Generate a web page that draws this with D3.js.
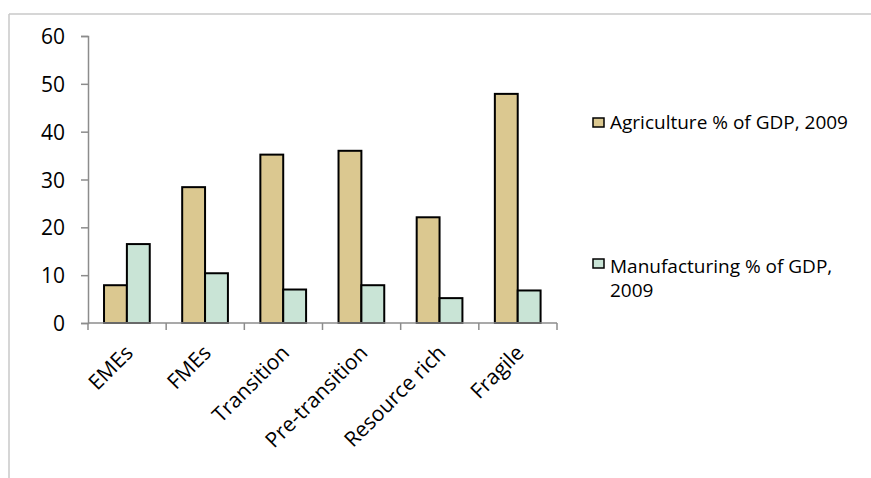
<html>
<script src="https://d3js.org/d3.v7.min.js"></script>
<style>
body {margin: 0; background: white;}
text {font-family: "Open Sans", "Liberation Sans", sans-serif; fill: #000;}
</style>
<div id="chart"></div>
<script>
var categories = ["EMEs", "FMEs", "Transition", "Pre-transition", "Resource rich", "Fragile"];
var agriculture = [7.9, 28.4, 35.2, 36.0, 22.1, 47.9];
var manufacturing = [16.5, 10.4, 7.0, 7.9, 5.2, 6.8];
var seriesNames = ["Agriculture % of GDP, 2009", "Manufacturing % of GDP, 2009"];
var yTicks = [0, 10, 20, 30, 40, 50, 60];

var colors = ["#dbc890", "#c9e4d6"];

var W = 871, H = 478;
var svg = d3.select("#chart").append("svg")
  .attr("width", W)
  .attr("height", H);

// outer frame (top + left only visible)
svg.append("line").attr("x1", 9).attr("x2", W).attr("y1", 14).attr("y2", 14)
  .style("stroke", "#c8c8c8").style("stroke-width", 1.5);
svg.append("line").attr("x1", 9).attr("x2", 9).attr("y1", 14).attr("y2", H)
  .style("stroke", "#c8c8c8").style("stroke-width", 1.5);

var pLeft = 88, pRight = 557, pTop = 36, pBottom = 323;

var x0 = d3.scaleBand().domain(categories).range([pLeft, pRight]).padding(0);
var bw = x0.bandwidth();
var x1 = d3.scaleBand().domain([0, 1]).range([bw * 0.205, bw * 0.79]);
var y = d3.scaleLinear().domain([0, 60]).range([pBottom, pTop]);

// y axis
var yAxis = svg.append("g")
  .attr("transform", "translate(" + pLeft + ",0)")
  .call(d3.axisLeft(y).tickValues(yTicks).tickSize(7).tickPadding(16));
yAxis.select(".domain").style("stroke", "#8c8c8c").style("stroke-width", 1.5);
yAxis.selectAll(".tick line").style("stroke", "#8c8c8c").style("stroke-width", 1.5);
yAxis.selectAll(".tick text").style("font-size", "21px").attr("dy", "0.36em")
  .style("font-family", "'Open Sans', sans-serif");

var data = [agriculture, manufacturing];

var groups = svg.append("g").selectAll("g")
  .data(categories)
  .enter().append("g")
  .attr("transform", function(d) { return "translate(" + x0(d) + ",0)"; });

groups.selectAll("rect")
  .data(function(d, i) { return [0, 1].map(function(s) { return {s: s, v: data[s][i]}; }); })
  .enter().append("rect")
  .attr("x", function(d) { return x1(d.s); })
  .attr("width", x1.bandwidth())
  .attr("y", function(d) { return y(d.v); })
  .attr("height", function(d) { return pBottom - y(d.v); })
  .style("fill", function(d) { return colors[d.s]; })
  .style("stroke", "#000")
  .style("stroke-width", 2);

// x axis line with ticks at band edges
var xg = svg.append("g");
xg.append("line").attr("x1", pLeft).attr("x2", pRight).attr("y1", pBottom).attr("y2", pBottom)
  .style("stroke", "#8c8c8c").style("stroke-width", 1.5);
var edges = categories.map(function(c) { return x0(c); }).concat([pRight]);
xg.selectAll(".xt").data(edges).enter().append("line")
  .attr("x1", function(d) { return d; }).attr("x2", function(d) { return d; })
  .attr("y1", pBottom).attr("y2", pBottom + 7)
  .style("stroke", "#8c8c8c").style("stroke-width", 1.5);

xg.selectAll(".xl").data(categories).enter().append("text")
  .attr("transform", function(d) {
    return "translate(" + (x0(d) + bw / 2 + 2) + "," + (pBottom + 26) + ") rotate(-45)";
  })
  .attr("text-anchor", "end")
  .attr("dy", "0.35em")
  .style("font-size", "21px")
  .text(function(d) { return d; });

// legend
var legY = [122, 263];
var leg = svg.append("g");
leg.selectAll("rect").data(seriesNames).enter().append("rect")
  .attr("x", 593)
  .attr("y", function(d, i) { return legY[i] - 4; })
  .attr("width", 11).attr("height", 9)
  .style("fill", function(d, i) { return colors[i]; })
  .style("stroke", "#000").style("stroke-width", 1.5);

leg.append("text").attr("x", 610).attr("y", 129).style("font-size", "19px")
  .text("Agriculture % of GDP, 2009");
leg.append("text").attr("x", 610).attr("y", 273).style("font-size", "19px")
  .text("Manufacturing % of GDP,");
leg.append("text").attr("x", 610).attr("y", 297).style("font-size", "19px")
  .text("2009");
</script>
</html>
